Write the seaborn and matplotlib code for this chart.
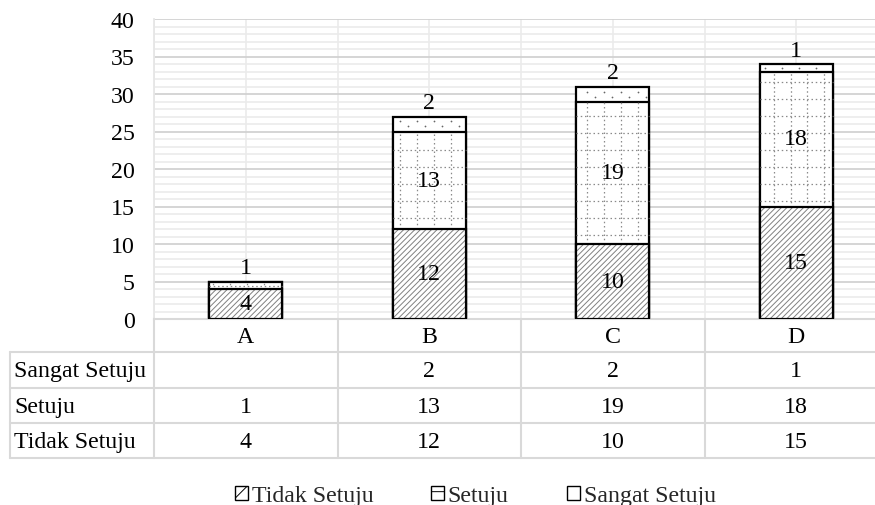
import numpy as np
import pandas as pd
import seaborn as sns
import matplotlib.pyplot as plt
from matplotlib.patches import Patch
from matplotlib.lines import Line2D
from matplotlib.ticker import MultipleLocator, FixedLocator
from matplotlib.transforms import blended_transform_factory

# --- data -------------------------------------------------------------
categories = ["A", "B", "C", "D"]
tidak_setuju = [4, 12, 10, 15]
setuju = [1, 13, 19, 18]
sangat_setuju = [None, 2, 2, 1]          # A has no "Sangat Setuju" answers
series_labels = ["Tidak Setuju", "Setuju", "Sangat Setuju"]
y_ticks = [0, 5, 10, 15, 20, 25, 30, 35, 40]

# --- style ------------------------------------------------------------
sns.set_theme(style="white")
plt.rcParams["font.family"] = ["Liberation Serif", "DejaVu Serif"]
plt.rcParams["hatch.linewidth"] = 0.7
FS = 17.2
GRID_MAJOR = "#d2d2d2"
GRID_MINOR = "#ebebeb"
TABLE_LINE = "#d9d9d9"

W, H = 875, 506
fig = plt.figure(figsize=(W / 100, H / 100), dpi=100)
fig.patch.set_facecolor("white")


def frac(x0, y0, x1, y1):
    """Pixel box (from top-left) -> figure-fraction rectangle."""
    return [x0 / W, 1 - y1 / H, (x1 - x0) / W, (y1 - y0) / H]


def fy(y):
    """Pixel row (from the top) -> figure fraction."""
    return 1 - y / H


ax = fig.add_axes(frac(154, 20, 888, 320))

df = pd.DataFrame({
    "kategori": categories,
    "tidak": tidak_setuju,
    "setuju": setuju,
    "sangat": pd.Series(sangat_setuju, dtype="float"),
})
df["mid"] = df["tidak"] + df["setuju"]
df["total"] = df["mid"] + df["sangat"].fillna(0)

BW = 0.40
common = dict(data=df, x="kategori", width=BW, errorbar=None, ax=ax, saturation=1)

# stacked bars drawn back-to-front: full stack, lower two segments, bottom segment
sns.barplot(y="total", color="white", edgecolor="black", linewidth=1.6, zorder=2, **common)
sns.barplot(y="mid", color="white", edgecolor="black", linewidth=1.6, zorder=3, **common)
sns.barplot(y="tidak", color="white", edgecolor="#808080", linewidth=0, hatch="//////", zorder=4, **common)
sns.barplot(y="tidak", color="black", fill=False, linewidth=1.6, zorder=5, **common)

n = len(categories)
ax.set_xlim(-0.5, n - 0.5)
ax.set_ylim(0, 40)
ax.set_yticks(y_ticks)
ax.yaxis.set_minor_locator(MultipleLocator(1))
ax.xaxis.set_minor_locator(FixedLocator(np.arange(-0.5, n, 1.0)))
ax.set_axisbelow(True)
ax.grid(axis="y", which="major", color=GRID_MAJOR, lw=1.3)
ax.grid(axis="y", which="minor", color=GRID_MINOR, lw=1.2)
ax.grid(axis="x", which="both", color="#ededed", lw=1.3)
ax.tick_params(axis="both", which="both", length=0)
ax.tick_params(axis="y", pad=14, labelsize=FS, labelcolor="black")
ax.tick_params(axis="x", pad=5, labelsize=FS, labelcolor="black")
ax.set_xlabel("")
ax.set_ylabel("")
for s in ["top", "right"]:
    ax.spines[s].set_visible(False)
ax.spines["left"].set_color("#e6e6e6")
ax.spines["left"].set_linewidth(1.3)
ax.spines["bottom"].set_color(TABLE_LINE)
ax.spines["bottom"].set_linewidth(1.5)

# --- fill patterns: dotted grid for "Setuju", fine dots for "Sangat Setuju"
to_disp = ax.transData
to_data = ax.transData.inverted()
DOT_LS = (0, (1.2, 2.2))
for i in range(n):
    x0, x1 = i - BW / 2, i + BW / 2
    # Setuju segment
    lo, hi = df.loc[i, "tidak"], df.loc[i, "mid"]
    (px0, pyb), (px1, pyt) = to_disp.transform([(x0, lo), (x1, hi)])
    img_top, img_bot = H - pyt, H - pyb
    xs = [x for x in np.arange(8.5, W, 17) if px0 + 2 < x < px1 - 2]
    ys = [y for y in np.arange(15, H, 17) if img_top + 1.5 < y < img_bot - 1.5]
    for x in xs:
        dx = to_data.transform((x, 0))[0]
        ax.vlines(dx, lo, hi, colors="#8a8a8a", lw=0.9, linestyles=DOT_LS, zorder=3.5)
    for y in ys:
        dy = to_data.transform((0, H - y))[1]
        ax.hlines(dy, x0, x1, colors="#8a8a8a", lw=0.9, linestyles=DOT_LS, zorder=3.5)
    # Sangat Setuju segment
    if not np.isnan(df.loc[i, "sangat"]):
        lo, hi = df.loc[i, "mid"], df.loc[i, "total"]
        (px0, pyb), (px1, pyt) = to_disp.transform([(x0, lo), (x1, hi)])
        img_top, img_bot = H - pyt, H - pyb
        pts = []
        for k, y in enumerate(np.arange(2.0, H, 4.8)):
            if not (img_top + 2.5 < y < img_bot - 2.5):
                continue
            off = 0.3 if k % 2 == 0 else 8.8
            for x in np.arange(off, W, 17):
                if px0 + 3 < x < px1 - 3:
                    pts.append(to_data.transform((x, H - y)))
        if pts:
            pts = np.array(pts)
            ax.scatter(pts[:, 0], pts[:, 1], s=1.6, color="#666666", linewidths=0, zorder=2.5)

# --- value labels -------------------------------------------------------
for i in range(n):
    segs = [(df.loc[i, "tidak"], 0.0), (df.loc[i, "setuju"], df.loc[i, "tidak"]),
            (df.loc[i, "sangat"], df.loc[i, "mid"])]
    segs = [(v, b) for v, b in segs if not np.isnan(v) and v > 0]
    for j, (v, b) in enumerate(segs):
        txt = f"{int(v)}"
        if j == len(segs) - 1:
            ax.annotate(txt, (i, b + v), xytext=(0, 2.5), textcoords="offset points",
                        ha="center", va="bottom", fontsize=FS, color="black", zorder=6)
        else:
            ax.text(i, b + v / 2, txt, ha="center", va="center", fontsize=FS,
                    color="black", zorder=6)

# --- data table under the axis -------------------------------------------
tx = blended_transform_factory(ax.transData, fig.transFigure)
row_edges = [353, 389, 424, 459]  # pixel rows from the top
top_edge = 320

for y in row_edges:
    fig.add_artist(Line2D([10 / W, 1.0], [fy(y), fy(y)], transform=fig.transFigure,
                          color=TABLE_LINE, lw=1.5))
for b in np.arange(-0.5, n, 1.0):
    fig.add_artist(Line2D([b, b], [fy(top_edge), fy(row_edges[-1])], transform=tx,
                          color=TABLE_LINE, lw=1.5))
fig.add_artist(Line2D([10 / W, 10 / W], [fy(row_edges[0]), fy(row_edges[-1])],
                      transform=fig.transFigure, color=TABLE_LINE, lw=1.5))

table_rows = [("Sangat Setuju", sangat_setuju), ("Setuju", setuju), ("Tidak Setuju", tidak_setuju)]
for r, (name, vals) in enumerate(table_rows):
    yc = fy((row_edges[r] + row_edges[r + 1]) / 2 + 1)
    fig.text(14 / W, yc, name, ha="left", va="center", fontsize=FS, color="black")
    for i, v in enumerate(vals):
        if v is None:
            continue
        ax.text(i, yc, f"{v}", transform=tx, ha="center", va="center", fontsize=FS,
                color="black", clip_on=False)

# --- legend ---------------------------------------------------------------
handles = [
    Patch(facecolor="white", edgecolor="black", hatch="/", lw=1.0),
    Patch(facecolor="white", edgecolor="black", hatch="-", lw=1.0),
    Patch(facecolor="white", edgecolor="black", lw=1.0),
]
legend_x = [235, 431, 567]
for h, lab, lx in zip(handles, series_labels, legend_x):
    fig.legend([h], [lab], loc="center left", bbox_to_anchor=(lx / W, fy(497)),
               frameon=False, fontsize=FS, handlelength=0.55, handleheight=0.55,
               handletextpad=0.15, borderpad=0, borderaxespad=0)

fig.savefig("out.png", dpi=100, facecolor="white")
